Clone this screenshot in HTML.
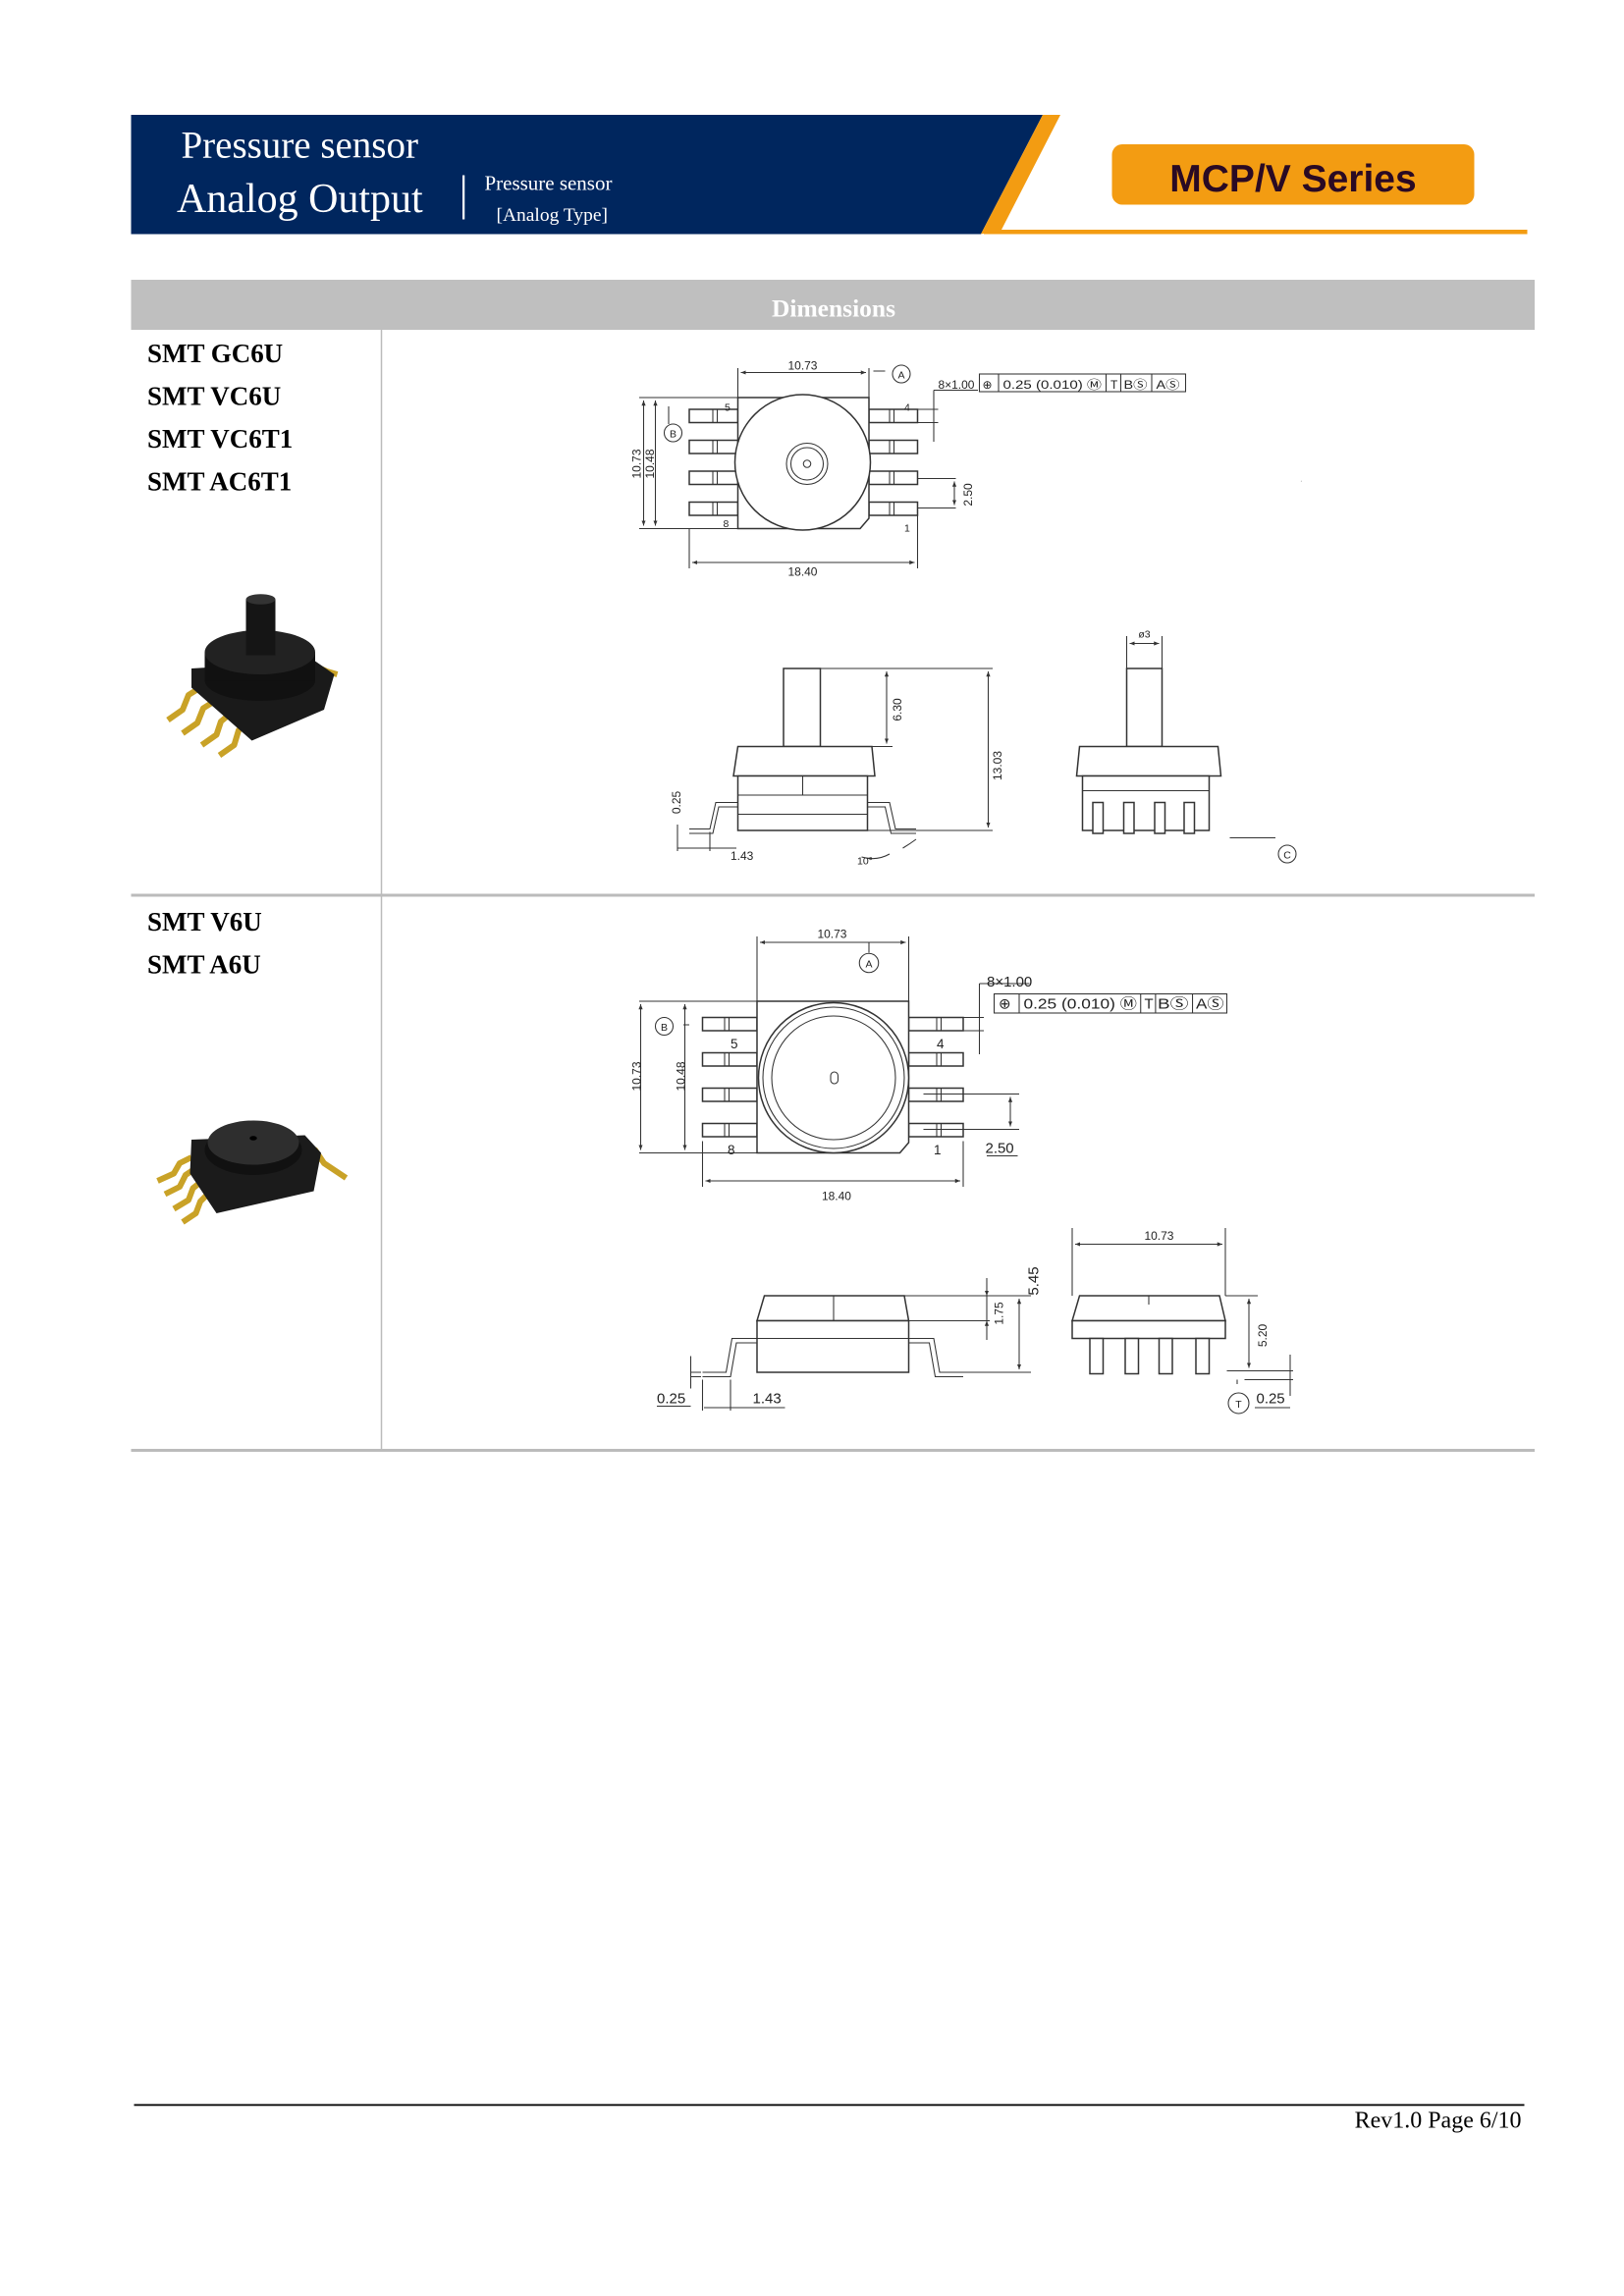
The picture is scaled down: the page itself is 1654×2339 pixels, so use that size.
<!DOCTYPE html>
<html><head><meta charset="utf-8"><style>
html,body{margin:0;padding:0;background:#fff;}
svg{display:block;}
.d{font-family:"Liberation Sans Narrow","Liberation Sans",sans-serif;font-size:8px;fill:#222;}
.ln{stroke:#333;stroke-width:0.7;fill:none;}
.th{stroke:#333;stroke-width:1;fill:#fff;}
</style></head><body>
<svg width="1654" height="2339" viewBox="0 0 1102.67 1559.33" preserveAspectRatio="none" xmlns="http://www.w3.org/2000/svg">
<defs>
<marker id="a" viewBox="0 0 10 10" refX="10" refY="5" markerWidth="5" markerHeight="5" orient="auto-start-reverse"><path d="M0,1 L10,5 L0,9z" fill="#333"/></marker>
</defs>
<rect width="1102.67" height="1559.33" fill="#fff"/>
<!-- header -->
<polygon points="89,78 708,78 666,159 89,159" fill="#00265e"/>
<polygon points="708,78 720,78 680,156 666,159" fill="#f39c12"/>
<rect x="668" y="156" width="369" height="3" fill="#f39c12"/>
<text x="123" y="107" font-family="Liberation Serif,serif" font-size="26" fill="#fff">Pressure sensor</text>
<text x="120" y="144" font-family="Liberation Serif,serif" font-size="28" fill="#fff">Analog Output</text>
<rect x="314" y="119" width="1.5" height="30" fill="#fff"/>
<text x="329" y="129" font-family="Liberation Serif,serif" font-size="14" fill="#fff">Pressure sensor</text>
<text x="337" y="150" font-family="Liberation Serif,serif" font-size="13" fill="#fff">[Analog Type]</text>
<rect x="755" y="98" width="246" height="41" rx="7" fill="#f39c12"/>
<text x="878" y="130" text-anchor="middle" font-family="Liberation Sans,sans-serif" font-weight="bold" font-size="26" fill="#2a0a24">MCP/V Series</text>
<!-- table -->
<rect x="89" y="190" width="953" height="34" fill="#bfbfbf"/>
<text x="566" y="215" text-anchor="middle" font-family="Liberation Serif,serif" font-weight="bold" font-size="17" fill="#fff">Dimensions</text>
<rect x="258.5" y="224" width="1" height="761" fill="#bbb"/>
<rect x="89" y="607" width="953" height="2" fill="#bbb"/>
<rect x="89" y="984" width="953" height="2" fill="#bbb"/>
<g font-family="Liberation Serif,serif" font-weight="bold" font-size="18" fill="#000">
<text x="100" y="246">SMT GC6U</text><text x="100" y="275">SMT VC6U</text><text x="100" y="304">SMT VC6T1</text><text x="100" y="333">SMT AC6T1</text>
<text x="100" y="632">SMT V6U</text><text x="100" y="661">SMT A6U</text>
</g>
<!-- footer -->
<rect x="91" y="1429" width="944" height="1.2" fill="#000"/>
<text x="1033" y="1445" text-anchor="end" font-family="Liberation Serif,serif" font-size="16" fill="#000">Rev1.0 Page 6/10</text>

<!-- photo 1 -->
<g>
<g stroke="#c9a227" stroke-width="4" fill="none" stroke-linejoin="round">
<polyline points="114,489 124,482 128,472 136,467"/>
<polyline points="124,498 134,491 138,481 146,476"/>
<polyline points="137,506 147,499 150,490 156,485"/>
<polyline points="149,513 159,506 162,496 167,491"/>
<polyline points="213,452 222,456 229,458"/>
</g>
<polygon points="130,454 214,449 227,458 220,482 171,503 130,467" fill="#1a1a1a"/>
<ellipse cx="176.5" cy="462" rx="37.5" ry="14" fill="#111"/>
<rect x="139" y="443" width="75" height="19" fill="#111"/>
<ellipse cx="176.5" cy="443" rx="37.5" ry="15" fill="#222"/>
<rect x="167" y="407" width="20" height="38" fill="#151515"/>
<ellipse cx="177" cy="407" rx="10" ry="3.5" fill="#333"/>
</g>
<!-- photo 2 -->
<g>
<g stroke="#c9a227" stroke-width="4" fill="none" stroke-linejoin="round">
<polyline points="107,802 118,797 122,790 130,786"/>
<polyline points="112,811 122,806 126,798 132,794"/>
<polyline points="118,821 128,815 131,807 136,803"/>
<polyline points="124,830 133,824 136,816 140,812"/>
<polyline points="204,777 214,781 220,790 235,800"/>
</g>
<polygon points="130,774 207,771 218,783 213,809 147,824 129,797" fill="#1b1b1b"/>
<ellipse cx="172" cy="781" rx="33" ry="17" fill="#111"/>
<ellipse cx="172" cy="776" rx="31" ry="15" fill="#2e2e2e"/>
<ellipse cx="172" cy="773" rx="2.5" ry="1.5" fill="#000"/>
</g>

<!-- DRAWING 1 top view -->
<g>
<g class="th">
<rect x="468" y="278" width="33" height="9"/><rect x="468" y="299" width="33" height="9"/><rect x="468" y="320" width="33" height="9"/><rect x="468" y="341" width="33" height="9"/>
<rect x="590" y="278" width="33" height="9"/><rect x="590" y="299" width="33" height="9"/><rect x="590" y="320" width="33" height="9"/><rect x="590" y="341" width="33" height="9"/>
</g>
<g class="ln"><path d="M484,278v9M487,278v9M484,299v9M487,299v9M484,320v9M487,320v9M484,341v9M487,341v9M604,278v9M607,278v9M604,299v9M607,299v9M604,320v9M607,320v9M604,341v9M607,341v9"/></g>
<path d="M501,270 H590 V352 L584,359 H501Z" class="th"/>
<circle cx="545" cy="314" r="46" class="th"/>
<circle cx="548" cy="315" r="14" class="ln" stroke-width="1.4"/>
<circle cx="548" cy="315" r="11" class="ln"/>
<circle cx="548" cy="315" r="2.5" class="ln"/>
<g class="ln">
<path d="M501,270V250M590,270V250M434,270H501M434,359H501M468,359V386M623,350V386M593,252H601" />
<line x1="503" y1="253" x2="588" y2="253" marker-start="url(#a)" marker-end="url(#a)"/>
<line x1="470" y1="382" x2="621" y2="382" marker-start="url(#a)" marker-end="url(#a)"/>
<line x1="437" y1="272" x2="437" y2="357" marker-start="url(#a)" marker-end="url(#a)"/>
<line x1="445" y1="272" x2="445" y2="357" marker-start="url(#a)" marker-end="url(#a)"/>
<path d="M454,276v12M623,325H649M623,345H649"/>
<line x1="648" y1="327" x2="648" y2="343" marker-start="url(#a)" marker-end="url(#a)"/>
<path d="M623,278H637M623,287H637M634,265V300M634,265H664"/>
<circle cx="612" cy="254" r="6"/><circle cx="457" cy="294" r="6"/>
<rect x="665" y="254" width="140" height="12"/>
<path d="M678,254v12M751,254v12M761,254v12M782,254v12"/>
</g>
<g class="d">
<text x="545" y="251" text-anchor="middle">10.73</text>
<text x="545" y="391" text-anchor="middle">18.40</text>
<text x="612" y="257" text-anchor="middle" font-size="7">A</text>
<text x="457" y="297" text-anchor="middle" font-size="7">B</text>
<text x="492" y="279" font-size="7">5</text><text x="614" y="279" font-size="7">4</text>
<text x="491" y="358" font-size="7">8</text><text x="614" y="361" font-size="7">1</text>
<text transform="translate(435,315) rotate(-90)" text-anchor="middle">10.73</text>
<text transform="translate(444,315) rotate(-90)" text-anchor="middle">10.48</text>
<text transform="translate(660,336) rotate(-90)" text-anchor="middle">2.50</text>
<text x="637" y="264">8×1.00</text>
<text x="667" y="264">⊕</text>
<text x="681" y="264" textLength="67" lengthAdjust="spacingAndGlyphs">0.25 (0.010) Ⓜ</text>
<text x="754" y="264">T</text><text x="763" y="264" textLength="16" lengthAdjust="spacingAndGlyphs">BⓈ</text><text x="785" y="264" textLength="16" lengthAdjust="spacingAndGlyphs">AⓈ</text>
</g>
</g>

<!-- DRAWING 1 side views -->
<g>
<rect x="532" y="454" width="25" height="53" class="th"/>
<path d="M501,507 H592 L594,527 H498Z" class="th"/>
<rect x="501" y="527" width="88" height="37" class="th"/>
<path d="M501,540 H589M501,553H589M545,527V540" class="ln"/>
<path d="M468,563 H482 L486,545 H501 M468,566 H484 L488,548 H501 M589,545 H604 L608,563 H622 M589,548 H601 L605,566 H622" class="ln"/>
<g class="ln">
<path d="M557,454H674M592,507H606M589,564H674"/>
<line x1="602" y1="456" x2="602" y2="505" marker-start="url(#a)" marker-end="url(#a)"/>
<line x1="671" y1="456" x2="671" y2="562" marker-start="url(#a)" marker-end="url(#a)"/>
<path d="M460,560V578M482,565V578M460,576H500"/>
<path d="M585,582 Q595,585 604,580M613,576 Q618,573 622,570"/>
</g>
<g class="d">
<text transform="translate(612,482) rotate(-90)" text-anchor="middle">6.30</text>
<text transform="translate(680,520) rotate(-90)" text-anchor="middle">13.03</text>
<text transform="translate(462,545) rotate(-90)" text-anchor="middle">0.25</text>
<text x="496" y="584">1.43</text>
<text x="582" y="587" font-size="7">10°</text>
</g>
<rect x="765" y="454" width="24" height="53" class="th"/>
<path d="M733,507 H827 L829,527 H731Z" class="th"/>
<rect x="735" y="527" width="86" height="37" class="th"/>
<path d="M735,537H821" class="ln"/>
<g class="th"><rect x="742" y="545" width="7" height="21"/><rect x="763" y="545" width="7" height="21"/><rect x="784" y="545" width="7" height="21"/><rect x="804" y="545" width="7" height="21"/></g>
<g class="ln">
<path d="M765,454V432M789,454V432M835,569H866"/>
<line x1="767" y1="437" x2="787" y2="437" marker-start="url(#a)" marker-end="url(#a)"/>
<circle cx="874" cy="580" r="6"/>
</g>
<g class="d"><text x="777" y="433" text-anchor="middle" font-size="7">ø3</text><text x="874" y="583" text-anchor="middle" font-size="7">C</text></g>
<text x="883" y="327" font-size="4" fill="#444">.</text>
</g>

<!-- DRAWING 2 top view -->
<g>
<g class="th">
<rect x="477" y="691" width="37" height="9"/><rect x="477" y="715" width="37" height="9"/><rect x="477" y="739" width="37" height="9"/><rect x="477" y="763" width="37" height="9"/>
<rect x="617" y="691" width="37" height="9"/><rect x="617" y="715" width="37" height="9"/><rect x="617" y="739" width="37" height="9"/><rect x="617" y="763" width="37" height="9"/>
</g>
<g class="ln"><path d="M492,691v9M495,691v9M492,715v9M495,715v9M492,739v9M495,739v9M492,763v9M495,763v9M636,691v9M639,691v9M636,715v9M639,715v9M636,739v9M639,739v9M636,763v9M639,763v9"/></g>
<path d="M514,680 H617 V776 L611,783 H514Z" class="th"/>
<circle cx="566" cy="732" r="51" class="th" stroke-width="1.4"/>
<circle cx="566" cy="732" r="48" class="ln"/>
<circle cx="566" cy="732" r="42" class="ln" stroke-width="1.2"/>
<rect x="564" y="728" width="5" height="8" rx="2.5" class="ln"/>
<g class="ln">
<path d="M514,680V636M617,680V636M434,680H514M434,783H514M477,775V806M654,775V806M590,640V647M464,696H468"/>
<line x1="516" y1="640" x2="615" y2="640" marker-start="url(#a)" marker-end="url(#a)"/>
<line x1="479" y1="802" x2="652" y2="802" marker-start="url(#a)" marker-end="url(#a)"/>
<line x1="435" y1="682" x2="435" y2="781" marker-start="url(#a)" marker-end="url(#a)"/>
<line x1="465" y1="682" x2="465" y2="781" marker-start="url(#a)" marker-end="url(#a)"/>
<circle cx="590" cy="654" r="6.5"/><circle cx="451" cy="697" r="6"/>
<path d="M627,743H692M627,767H692M654,691H668M654,700H668M665,668V716M665,668H699"/>
<line x1="686" y1="745" x2="686" y2="765" marker-start="url(#a)" marker-end="url(#a)"/>
<path d="M670,785H691"/>
<rect x="675" y="675" width="158" height="13"/>
<path d="M692,675v13M774.5,675v13M784.6,675v13M809.7,675v13"/>
</g>
<g class="d">
<text x="565" y="637" text-anchor="middle">10.73</text>
<text x="568" y="815" text-anchor="middle">18.40</text>
<text x="590" y="657" text-anchor="middle" font-size="7">A</text>
<text x="451" y="700" text-anchor="middle" font-size="7">B</text>
<text x="496" y="712" font-size="9">5</text><text x="636" y="712" font-size="9">4</text>
<text x="494" y="784" font-size="9">8</text><text x="634" y="784" font-size="9">1</text>
<text transform="translate(435,731) rotate(-90)" text-anchor="middle">10.73</text>
<text transform="translate(465,731) rotate(-90)" text-anchor="middle">10.48</text>
<text x="669" y="783" font-size="10">2.50</text>
<text x="670" y="670" font-size="10">8×1.00</text>
<text x="678" y="685" font-size="10">⊕</text>
<text x="695" y="685" font-size="10" textLength="77" lengthAdjust="spacingAndGlyphs">0.25 (0.010) Ⓜ</text>
<text x="777" y="685" font-size="10">T</text><text x="786" y="685" font-size="10" textLength="21" lengthAdjust="spacingAndGlyphs">BⓈ</text><text x="812" y="685" font-size="10" textLength="19" lengthAdjust="spacingAndGlyphs">AⓈ</text>
</g>
</g>

<!-- DRAWING 2 side views -->
<g>
<path d="M519,880 H614 L617,897 H514Z" class="th"/>
<rect x="514" y="897" width="103" height="35" class="th"/>
<path d="M566,880V897M514,909H617" class="ln"/>
<path d="M477,932 H493 L497,909 H514 M477,935 H496 L500,912 H514 M617,909 H634 L638,932 H654 M617,912 H631 L635,935 H654" class="ln"/>
<g class="ln">
<path d="M614,880H700M617,897H672M654,932H700"/>
<line x1="692" y1="882" x2="692" y2="930" marker-start="url(#a)" marker-end="url(#a)"/>
<line x1="670" y1="868" x2="670" y2="880" marker-end="url(#a)"/><line x1="670" y1="910" x2="670" y2="897" marker-end="url(#a)"/>
<path d="M670,880V897"/>
<path d="M469,921V943M476,932H469M476,935H469M477,937V958M496,937V958M446,955H469M478,956H533"/>
</g>
<g class="d">
<text transform="translate(705,870) rotate(-90)" text-anchor="middle" font-size="10">5.45</text>
<text transform="translate(681,892) rotate(-90)" text-anchor="middle">1.75</text>
<text x="446" y="953" font-size="10">0.25</text>
<text x="511" y="953" font-size="10">1.43</text>
</g>
<path d="M733,880 H828 L832,897 H728Z" class="th"/>
<rect x="728" y="897" width="104" height="12" class="th"/>
<path d="M780,880V886" class="ln"/>
<g class="th"><rect x="740" y="909" width="9" height="24"/><rect x="764" y="909" width="9" height="24"/><rect x="787" y="909" width="9" height="24"/><rect x="812" y="909" width="9" height="24"/></g>
<g class="ln">
<path d="M728,880V834M832,880V834M832,880H854M833,931H878M845,937H878"/>
<line x1="730" y1="845" x2="830" y2="845" marker-start="url(#a)" marker-end="url(#a)"/>
<line x1="848" y1="882" x2="848" y2="929" marker-start="url(#a)" marker-end="url(#a)"/>
<path d="M876,920V948M852,956H876M840,937V940"/>
<circle cx="841" cy="953" r="7"/>
</g>
<g class="d">
<text x="787" y="842" text-anchor="middle">10.73</text>
<text transform="translate(860,907) rotate(-90)" text-anchor="middle">5.20</text>
<text x="841" y="956" text-anchor="middle" font-size="7">T</text>
<text x="853" y="953" font-size="10">0.25</text>
</g>
</g>
</svg>
</body></html>
